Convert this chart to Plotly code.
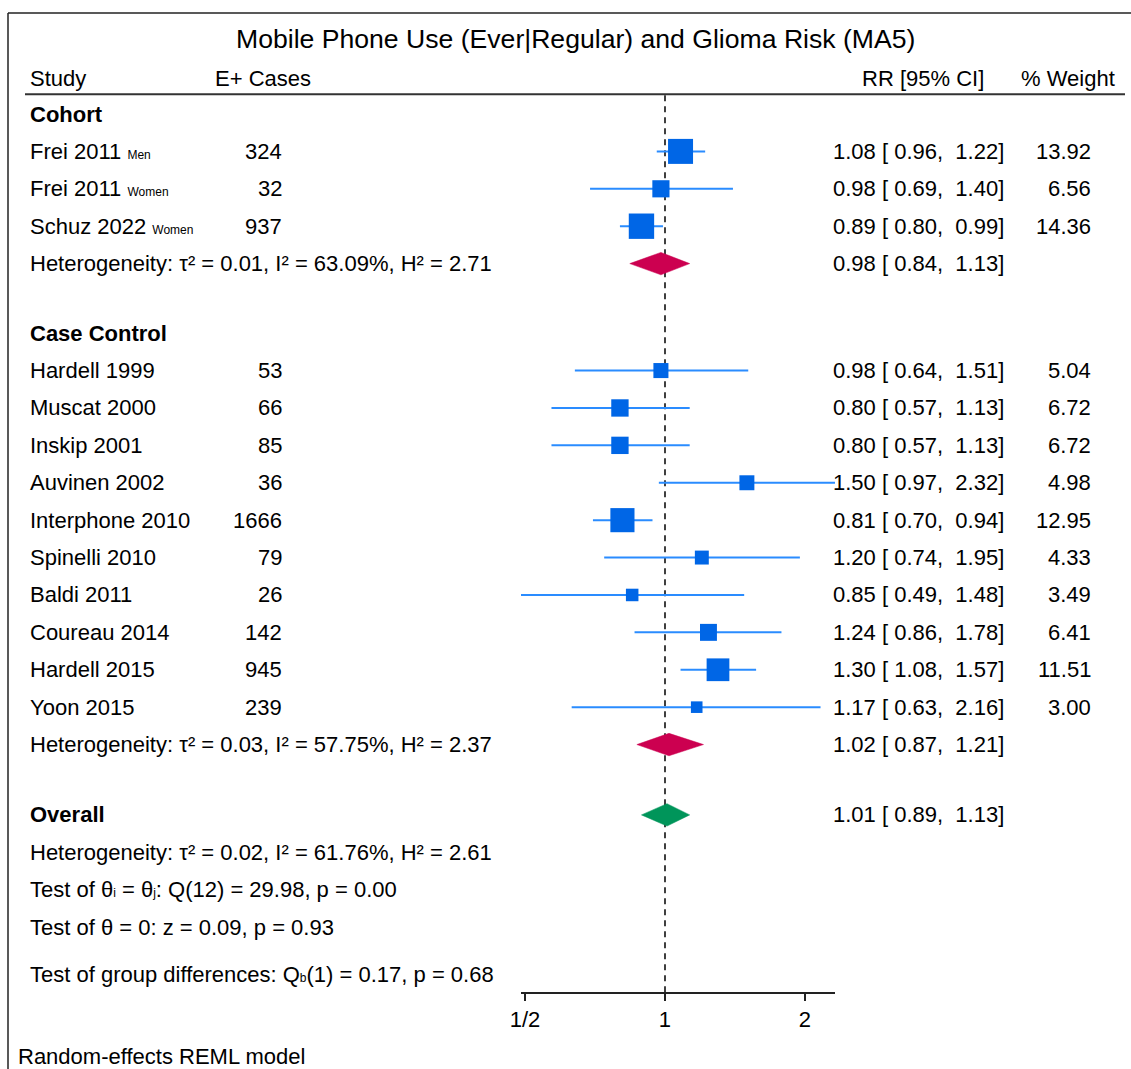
import math
import plotly.graph_objects as go

# ---------------- data ----------------
groups = ["Cohort", "Case Control"]
study_group = ["Cohort"] * 3 + ["Case Control"] * 10
studies = ["Frei 2011", "Frei 2011", "Schuz 2022", "Hardell 1999", "Muscat 2000",
           "Inskip 2001", "Auvinen 2002", "Interphone 2010", "Spinelli 2010",
           "Baldi 2011", "Coureau 2014", "Hardell 2015", "Yoon 2015"]
study_note = ["Men", "Women", "Women", "", "", "", "", "", "", "", "", "", ""]
cases = [324, 32, 937, 53, 66, 85, 36, 1666, 79, 26, 142, 945, 239]
rr = [1.08, 0.98, 0.89, 0.98, 0.80, 0.80, 1.50, 0.81, 1.20, 0.85, 1.24, 1.30, 1.17]
ci_lo = [0.96, 0.69, 0.80, 0.64, 0.57, 0.57, 0.97, 0.70, 0.74, 0.49, 0.86, 1.08, 0.63]
ci_hi = [1.22, 1.40, 0.99, 1.51, 1.13, 1.13, 2.32, 0.94, 1.95, 1.48, 1.78, 1.57, 2.16]
weight = [13.92, 6.56, 14.36, 5.04, 6.72, 6.72, 4.98, 12.95, 4.33, 3.49, 6.41, 11.51, 3.00]

group_rr = [0.98, 1.02]
group_lo = [0.84, 0.87]
group_hi = [1.13, 1.21]
group_tau2 = [0.01, 0.03]
group_i2 = [63.09, 57.75]
group_h2 = [2.71, 2.37]

overall_rr = 1.01
overall_lo = 0.89
overall_hi = 1.13
overall_tau2 = 0.02
overall_i2 = 61.76
overall_h2 = 2.61
q_df, q_stat, q_p = 12, 29.98, 0.00
z_stat, z_p = 0.09, 0.93
qb_df, qb_stat, qb_p = 1, 0.17, 0.68

tick_vals = [0.5, 1, 2]
tick_text = ["1/2", "1", "2"]

title = "Mobile Phone Use (Ever|Regular) and Glioma Risk (MA5)"
footer = "Random-effects REML model"

# ---------------- layout constants ----------------
W, H = 1131, 1069
PX_PER_ROW = 37.4
ROW0_PX = 114          # pixel y of first row
FONT = "Arial, Liberation Sans, sans-serif"
FS = 22
SMALL = 12
TXT = "#000000"
SQ_COL = "#0066E6"
CI_COL = "#2A8CFF"
GRP_COL = "#CC0050"
OV_COL = "#00955A"

def px_to_row(p):
    return (p - ROW0_PX) / PX_PER_ROW

def fx(p):  # pixel x -> paper
    return p / W

X_STUDY = 30
X_CASES_R = 282
X_RR_R = 1004
X_W_R = 1091

# row assignment
y = 0.0
study_rows = []
group_label_rows = []
group_het_rows = []
for gi, g in enumerate(groups):
    if gi > 0:
        y += 1.86
    group_label_rows.append(y)
    for sg in study_group:
        if sg == g:
            y += 1
            study_rows.append(y)
    y += 1
    group_het_rows.append(y)
overall_row = y + 1.88
overall_het_row = overall_row + 1
test1_row = overall_row + 2
test2_row = overall_row + 3
test3_row = test2_row + 1.26
axis_row = test3_row + 0.5
header_line_row = -0.5

fig = go.Figure()

# CI lines
lx, ly = [], []
for lo, hi, r in zip(ci_lo, ci_hi, study_rows):
    lx += [lo, hi, None]
    ly += [r, r, None]
fig.add_trace(go.Scatter(x=lx, y=ly, mode="lines", line=dict(color=CI_COL, width=2),
                         hoverinfo="skip", showlegend=False, cliponaxis=False))

# squares (side ~ sqrt of weight)
sizes = [6.7 * math.sqrt(w) for w in weight]
fig.add_trace(go.Scatter(x=rr, y=study_rows, mode="markers",
                         marker=dict(symbol="square", size=sizes, color=SQ_COL,
                                     opacity=1, line=dict(width=0)),
                         showlegend=False, cliponaxis=False))

# diamonds
DH = 0.30
def diamond(est, lo, hi, r, col):
    fig.add_trace(go.Scatter(x=[lo, est, hi, est, lo], y=[r, r - DH, r, r + DH, r],
                             mode="lines", fill="toself", fillcolor=col,
                             line=dict(color=col, width=0.5), showlegend=False,
                             hoverinfo="skip", cliponaxis=False))

for gi in range(len(groups)):
    diamond(group_rr[gi], group_lo[gi], group_hi[gi], group_het_rows[gi], GRP_COL)
diamond(overall_rr, overall_lo, overall_hi, overall_row, OV_COL)

ann = []
def text(xp, r, s, anchor="left", size=FS, bold=False):
    if bold:
        s = "<b>" + s + "</b>"
    ann.append(dict(x=fx(xp), y=r, xref="paper", yref="y", text=s, showarrow=False,
                    xanchor=anchor, yanchor="middle", borderpad=0, borderwidth=0,
                    font=dict(family=FONT, size=size, color=TXT)))

def small(s):
    return "<span style='font-size:%dpx'>%s</span>" % (SMALL, s)

def fmt_ci(e, lo, hi):
    return "%.2f [\u00a0%.2f,\u00a0 %.2f]" % (e, lo, hi)

def het(t2, i2, h2):
    return ("Heterogeneity: τ\u00b2 = %.2f, I\u00b2 = %.2f%%, H\u00b2 = %.2f" % (t2, i2, h2))

# title & headers
text(575, px_to_row(39), title, anchor="center", size=26.6)
hdr = px_to_row(78)
text(X_STUDY, hdr, "Study")
text(215, hdr, "E+ Cases")
text(984, hdr, "RR [95% CI]", anchor="right")
text(1115, hdr, "% Weight", anchor="right")

for gi, g in enumerate(groups):
    text(X_STUDY, group_label_rows[gi], g, bold=True)
    text(X_STUDY, group_het_rows[gi], het(group_tau2[gi], group_i2[gi], group_h2[gi]))
    text(X_RR_R, group_het_rows[gi], fmt_ci(group_rr[gi], group_lo[gi], group_hi[gi]),
         anchor="right")

for i, r in enumerate(study_rows):
    name = studies[i] + ((" " + small(study_note[i])) if study_note[i] else "")
    text(X_STUDY, r, name)
    text(X_CASES_R, r, str(cases[i]), anchor="right")
    text(X_RR_R, r, fmt_ci(rr[i], ci_lo[i], ci_hi[i]), anchor="right")
    text(X_W_R, r, "%.2f" % weight[i], anchor="right")

text(X_STUDY, overall_row, "Overall", bold=True)
text(X_RR_R, overall_row, fmt_ci(overall_rr, overall_lo, overall_hi), anchor="right")
text(X_STUDY, overall_het_row, het(overall_tau2, overall_i2, overall_h2))
text(X_STUDY, test1_row, "Test of θ%s = θ%s: Q(%d) = %.2f, p = %.2f"
     % (small("i"), small("j"), q_df, q_stat, q_p))
text(X_STUDY, test2_row, "Test of θ = 0: z = %.2f, p = %.2f" % (z_stat, z_p))
text(X_STUDY, test3_row, "Test of group differences: Q%s(%d) = %.2f, p = %.2f"
     % (small("b"), qb_df, qb_stat, qb_p))
text(18, px_to_row(1056), footer)

shapes = [
    # frame (left and top)
    dict(type="line", xref="paper", yref="paper", x0=fx(8), x1=fx(8), y0=0,
         y1=1 - 13 / H, line=dict(color="#222", width=1.5)),
    dict(type="line", xref="paper", yref="paper", x0=fx(8), x1=1.0, y0=1 - 13 / H,
         y1=1 - 13 / H, line=dict(color="#222", width=1.5)),
    # header rule
    dict(type="line", xref="paper", yref="y", x0=fx(25), x1=fx(1125),
         y0=header_line_row - 0.03, y1=header_line_row - 0.03,
         line=dict(color="#333", width=2)),
    # null line
    dict(type="line", xref="x", yref="y", x0=1, x1=1, y0=header_line_row,
         y1=axis_row, layer="below", line=dict(color="#000", width=1.5, dash="6px,5px")),
]

xmin = min(ci_lo)
xmax = max(ci_hi)
# pixel mapping: x=1 at 665 px, 140 px per doubling
PX_ONE, PX_DOUBLE = 665, 140
d0 = PX_ONE + math.log2(xmin) * PX_DOUBLE
d1 = PX_ONE + math.log2(xmax) * PX_DOUBLE

y_top = px_to_row(0)
y_bot = px_to_row(H)
axis_pos = (y_bot - axis_row) / (y_bot - y_top)

fig.update_layout(
    template="none",
    width=W, height=H, margin=dict(l=0, r=0, t=0, b=0, pad=0, autoexpand=False),
    paper_bgcolor="white", plot_bgcolor="rgba(0,0,0,0)",
    showlegend=False, annotations=ann, shapes=shapes,
    xaxis=dict(type="log", domain=[fx(d0), fx(d1)],
               range=[math.log10(xmin), math.log10(xmax)],
               anchor="free", position=axis_pos, automargin=False,
               showline=True, linecolor="#222", linewidth=1.5,
               ticks="outside", ticklen=7, tickwidth=1.5, tickcolor="#222",
               tickvals=tick_vals, ticktext=tick_text,
               tickfont=dict(family=FONT, size=FS, color=TXT),
               showgrid=False, zeroline=False, fixedrange=True),
    yaxis=dict(range=[y_bot, y_top], domain=[0, 1], visible=False, automargin=False,
               showgrid=False, zeroline=False, fixedrange=True),
)

fig.write_html("out.html", config={"displayModeBar": False},
               post_script="document.body.style.margin='0';document.body.style.overflow='hidden';")
